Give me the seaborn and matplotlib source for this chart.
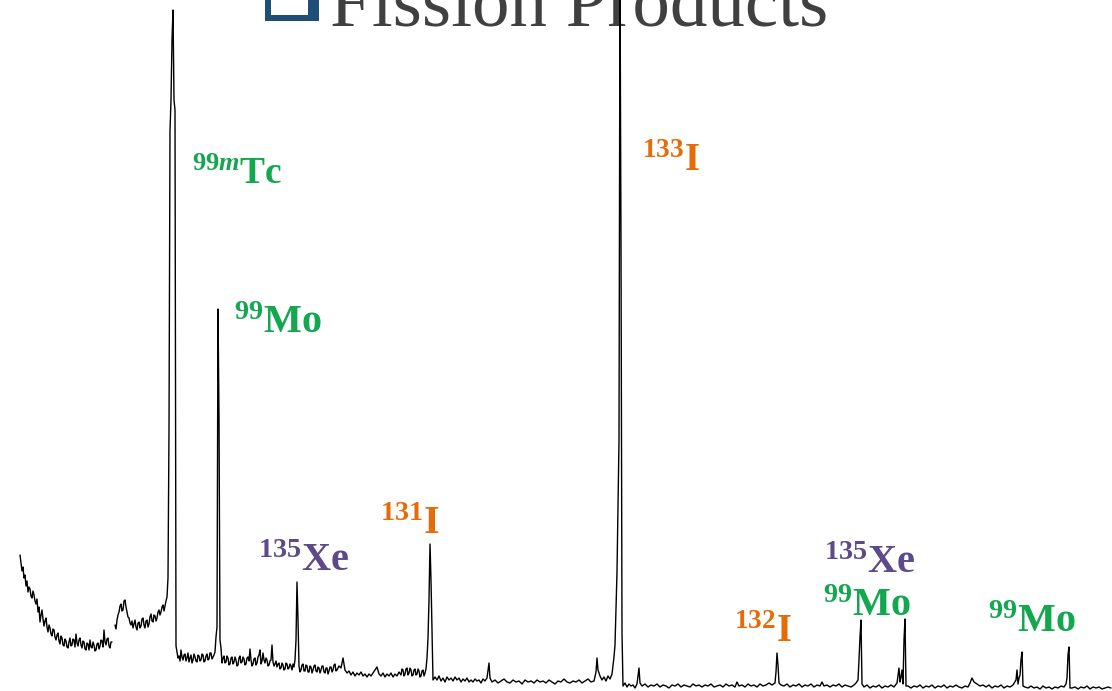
import matplotlib
matplotlib.use("Agg")
import matplotlib.pyplot as plt
import seaborn as sns
import pandas as pd
from matplotlib.patches import Rectangle

# ---------------- data (channel, counts) ----------------
# low-energy continuum (before the gap)
continuum_low = [
    (20, 136), (21, 128), (22, 120), (23, 124), (24, 113), (25, 116), (26, 105),
    (27, 110), (28, 99), (29, 104), (30, 102), (31, 95), (32, 93), (33, 100),
    (34, 96), (35, 90), (36, 87), (37, 92), (38, 79), (39, 84), (40, 69),
    (41, 76), (42, 81), (43, 72), (44, 65), (45, 70), (46, 73), (47, 64),
    (48, 59), (49, 66), (50, 63), (51, 57), (52, 55), (53, 62), (54, 61),
    (55, 54), (56, 51), (57, 56), (58, 58), (59, 50), (60, 47), (61, 55),
    (62, 53), (63, 46), (64, 45), (65, 52), (66, 50), (67, 44), (68, 43),
    (69, 49), (70, 53), (71, 45), (72, 46), (73, 52), (74, 51), (75, 44),
    (76, 57), (77, 48), (78, 45), (79, 51), (80, 53), (81, 46), (82, 43),
    (83, 50), (84, 49), (85, 42), (86, 41), (87, 48), (88, 47), (89, 41),
    (90, 51), (91, 44), (92, 43), (93, 49), (94, 46), (95, 40), (96, 41),
    (97, 47), (98, 48), (99, 42), (100, 45), (101, 51), (102, 50), (103, 44),
    (104, 61), (105, 49), (106, 46), (107, 52), (108, 53), (109, 45), (110, 43),
    (111, 49), (112, 49),
]
# continuum after the gap, 99mTc and first 99Mo peaks
region_tc = [
    (115, 66), (116, 62), (117, 71), (118, 76), (119, 79), (120, 85), (121, 87),
    (122, 80), (123, 81), (124, 90), (125, 91), (126, 84), (127, 79), (128, 74),
    (129, 73), (130, 68), (131, 66), (132, 70), (133, 63), (134, 67), (135, 71),
    (136, 64), (137, 61), (138, 68), (139, 69), (140, 63), (141, 65), (142, 72),
    (143, 73), (144, 66), (145, 63), (146, 70), (147, 71), (148, 64), (149, 67),
    (150, 74), (151, 77), (152, 70), (153, 69), (154, 76), (155, 75), (156, 70),
    (157, 73), (158, 79), (159, 81), (160, 76), (161, 79), (162, 84), (163, 86),
    (164, 80), (165, 85), (166, 90), (167, 94), (168, 113),
    (169, 261), (170, 560), (171, 591), (172, 651), (173, 681), (174, 591), (175, 581),
    (176, 45), (177, 39), (178, 33), (179, 35), (180, 30), (181, 41), (182, 34),
    (183, 31), (184, 36), (185, 37), (186, 30), (187, 33), (188, 38), (189, 29),
    (190, 33), (191, 36), (192, 28), (193, 31), (194, 37), (195, 34), (196, 30),
    (197, 29), (198, 36), (199, 35), (200, 30), (201, 31), (202, 37), (203, 36),
    (204, 29), (205, 30), (206, 35), (207, 37), (208, 31), (209, 32), (210, 38),
    (211, 38), (212, 32), (213, 34), (214, 36), (215, 39),
    (216, 54), (217, 64), (218, 382), (219, 274), (220, 51), (221, 43), (222, 28),
    (223, 33), (224, 35), (225, 28), (226, 29), (227, 35), (228, 33), (229, 26),
    (230, 27), (231, 33), (232, 34), (233, 27), (234, 29), (235, 34), (236, 31),
    (237, 25), (238, 26), (239, 33), (240, 35), (241, 28), (242, 29), (243, 34),
    (244, 32), (245, 26), (246, 27), (247, 33), (248, 34), (249, 30), (250, 42),
    (251, 31), (252, 25), (253, 27), (254, 32), (255, 33), (256, 26), (257, 28),
    (258, 34), (259, 36), (260, 41), (261, 27), (262, 30), (263, 38), (264, 31),
    (265, 28), (266, 33), (267, 31), (268, 25), (269, 26), (270, 30), (271, 31),
    (272, 46), (273, 29), (274, 25), (275, 27), (276, 30), (277, 24), (278, 27),
    (279, 28), (280, 22), (281, 23), (282, 28), (283, 26), (284, 21), (285, 22),
    (286, 28), (287, 27), (288, 22), (289, 23), (290, 27), (291, 25), (292, 21),
    (293, 27), (294, 24), (295, 31),
]
# 135Xe and 131I peaks
region_xe_i131 = [
    (296, 51), (297, 109), (298, 71), (299, 25), (300, 19), (301, 21), (302, 26),
    (303, 27), (304, 20), (305, 20), (306, 26), (307, 25), (308, 19), (309, 19),
    (310, 25), (311, 24), (312, 18), (313, 21), (314, 25), (315, 26), (316, 20),
    (317, 19), (318, 24), (319, 23), (320, 18), (321, 21), (322, 25), (323, 25),
    (324, 19), (325, 18), (326, 23), (327, 23), (328, 17), (329, 20), (330, 24),
    (331, 24), (332, 19), (333, 21), (334, 26), (335, 27), (336, 20), (337, 21),
    (339, 25), (341, 23), (343, 33), (345, 21), (347, 18),
    (349, 20), (351, 16), (353, 19), (355, 15), (357, 18), (359, 16), (361, 19),
    (363, 15), (365, 17), (367, 14), (369, 17), (371, 15), (373, 18), (375, 21),
    (377, 24), (379, 17), (381, 15), (383, 18), (385, 14), (387, 17), (389, 15),
    (391, 18), (393, 14), (395, 17), (397, 15), (399, 19), (401, 16), (402, 22),
    (403, 21), (404, 15), (405, 17), (406, 22), (407, 23), (408, 16), (409, 18),
    (410, 23), (411, 21), (412, 15), (413, 16), (414, 21), (415, 22), (416, 16),
    (417, 17), (418, 22), (419, 20), (420, 14), (421, 15), (422, 20), (423, 21),
    (424, 15), (425, 18), (426, 22), (427, 33), (428, 53), (429, 91),
    (430, 147), (431, 111), (432, 61), (433, 11), (435, 14), (437, 11), (439, 15),
    (441, 10), (443, 13), (445, 9), (447, 14), (449, 11), (451, 13), (453, 10),
    (455, 14), (457, 11), (459, 13), (461, 9), (463, 12), (465, 10), (467, 13),
    (469, 9), (471, 11), (473, 9), (475, 12), (477, 10), (479, 11), (481, 8),
    (483, 12), (485, 10), (487, 13), (489, 28), (490, 13),
]
# flat stretch and the 133I peak
region_i133 = [
    (492, 9), (495, 11), (498, 8), (501, 10), (504, 12), (507, 9), (510, 8),
    (513, 11), (516, 9), (519, 10), (522, 7), (525, 11), (528, 9), (531, 10),
    (534, 8), (537, 11), (540, 9), (543, 10), (546, 8), (549, 11), (552, 9),
    (555, 7), (558, 10), (561, 9), (564, 12), (567, 9), (570, 8), (573, 10),
    (576, 9), (579, 11), (582, 8), (585, 10), (588, 12), (591, 9), (594, 10),
    (596, 19), (597, 33), (598, 21), (600, 15), (602, 11), (604, 14), (606, 10),
    (608, 15), (610, 12), (612, 17), (614, 34), (615, 46), (617, 119), (618, 182),
    (619, 251), (620, 721), (621, 446), (622, 58), (623, 5), (625, 8), (627, 4),
    (629, 7), (631, 5), (633, 6), (635, 3), (637, 7), (639, 23), (640, 8),
]
# 132I and 99Mo / 135Xe doublet
region_i132 = [
    (642, 5), (645, 7), (648, 4), (651, 6), (654, 5), (657, 7), (660, 4),
    (663, 6), (666, 5), (669, 3), (672, 6), (675, 5), (678, 7), (681, 4),
    (684, 6), (687, 5), (690, 4), (693, 7), (696, 5), (699, 6), (702, 4),
    (705, 6), (708, 5), (711, 7), (714, 4), (717, 5), (720, 6), (723, 4),
    (726, 7), (729, 5), (732, 6), (735, 4), (737, 9), (739, 5), (742, 6),
    (745, 4), (748, 7), (751, 5), (754, 6), (757, 4), (760, 7), (763, 5),
    (766, 6), (769, 8), (772, 6), (775, 8), (776, 19), (777, 38), (778, 26),
    (779, 8), (781, 6), (784, 5), (787, 7), (790, 4), (793, 6), (796, 5),
    (799, 7), (802, 4), (805, 6), (808, 5), (811, 7), (814, 4), (817, 6),
    (820, 5), (822, 9), (824, 5), (827, 6), (830, 4), (833, 6), (836, 5),
    (839, 7), (842, 4), (845, 6), (848, 5), (851, 4), (854, 6), (856, 8),
    (858, 11), (859, 31), (860, 54), (861, 71), (862, 7), (864, 4), (867, 6),
    (870, 3), (873, 5), (876, 4), (879, 6), (882, 3), (885, 5), (888, 4),
    (891, 6), (894, 4), (897, 8), (899, 23), (900, 9), (901, 14), (902, 21),
    (903, 7), (904, 51), (905, 72), (906, 5),
]
# high-energy 99Mo lines
region_high = [
    (908, 5), (911, 3), (914, 5), (917, 4), (920, 6), (923, 3), (926, 5),
    (929, 4), (932, 6), (935, 3), (938, 5), (941, 4), (944, 6), (947, 3),
    (950, 5), (953, 4), (956, 6), (959, 4), (962, 3), (965, 5), (968, 4),
    (970, 8), (972, 13), (974, 9), (977, 7), (980, 5), (983, 6), (986, 4),
    (989, 6), (992, 3), (995, 5), (998, 4), (1001, 6), (1004, 3), (1007, 5),
    (1010, 4), (1013, 6), (1016, 11), (1017, 21), (1018, 7), (1019, 13),
    (1020, 16), (1021, 31), (1022, 39), (1023, 5), (1025, 4), (1028, 3),
    (1031, 5), (1034, 3), (1037, 4), (1040, 2), (1043, 5), (1046, 3), (1049, 4),
    (1052, 2), (1055, 4), (1058, 3), (1061, 5), (1064, 4), (1066, 7), (1067, 13),
    (1068, 36), (1069, 44), (1070, 3), (1072, 3), (1075, 4), (1078, 2),
    (1081, 4), (1084, 3), (1087, 5), (1090, 2), (1093, 4), (1096, 3), (1099, 4),
    (1102, 2), (1105, 3), (1108, 4), (1111, 3),
]

label_texts = [r"$^{99\mathit{m}}$Tc", r"$^{99}$Mo", r"$^{135}$Xe", r"$^{131}$I",
               r"$^{133}$I", r"$^{132}$I", r"$^{135}$Xe", r"$^{99}$Mo", r"$^{99}$Mo"]
label_kind = ["Mo/Tc", "Mo/Tc", "Xe", "I", "I", "I", "Xe", "Mo/Tc", "Mo/Tc"]
title_text = "Fission Products"

# ---------------- build table ----------------
segments = [continuum_low, region_tc + region_xe_i131 + region_i133 + region_i132 + region_high]
rows = []
for seg_id, seg in enumerate(segments):
    for ch, c in seg:
        rows.append({"channel": ch, "counts": c, "segment": seg_id})
df = pd.DataFrame(rows)

# ---------------- styling ----------------
sns.set_theme(style="white")
plt.rcParams["font.family"] = ["Liberation Serif", "DejaVu Serif"]
plt.rcParams["mathtext.fontset"] = "custom"
plt.rcParams["mathtext.rm"] = "Liberation Serif:bold"
plt.rcParams["mathtext.it"] = "Liberation Serif:italic:bold"
plt.rcParams["mathtext.bf"] = "Liberation Serif:bold"
plt.rcParams["mathtext.default"] = "rm"

palette = {"Mo/Tc": "#13a74f", "Xe": "#5c4a8b", "I": "#e46c0a"}

fig = plt.figure(figsize=(11.12, 6.91), dpi=100)
ax = fig.add_axes([0, 0, 1, 1])
sns.lineplot(data=df, x="channel", y="counts", units="segment", estimator=None,
             color="black", linewidth=1.0, sort=True, legend=False, ax=ax)
ax.set_xlim(0, 1112)
ax.set_ylim(0, 691)
ax.axis("off")

# label anchors (channel, counts) and font sizes
label_x = [192, 234, 258, 380, 642, 734, 824, 823, 988]
label_y = [507, 358, 120, 157, 520, 49, 118, 75, 59]
label_size = [27, 29, 29, 29, 28, 28, 29, 29, 29]
for t, k, x, y, s in zip(label_texts, label_kind, label_x, label_y, label_size):
    ax.text(x, y, t, color=palette[k], fontsize=s, fontweight="bold",
            family="Liberation Serif", ha="left", va="baseline")

# title with box glyph
ax.add_patch(Rectangle((265, 670), 54, 60, facecolor="#1f4e79", edgecolor="none",
                       clip_on=False, zorder=3))
ax.add_patch(Rectangle((271, 676), 37, 60, facecolor="white", edgecolor="none",
                       clip_on=False, zorder=4))
ax.text(330, 666, title_text, color="#404040", fontsize=54, family="Liberation Serif",
        ha="left", va="baseline", zorder=1)

fig.savefig("out.png", dpi=100, facecolor="white")
